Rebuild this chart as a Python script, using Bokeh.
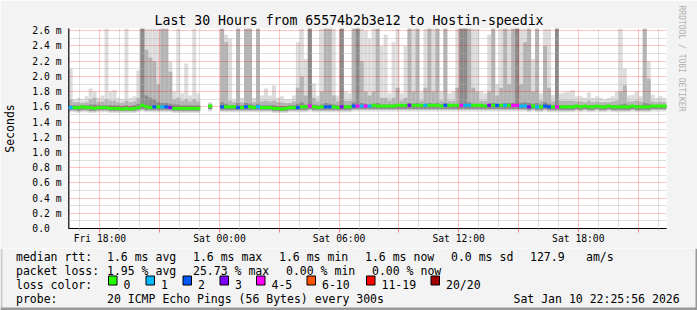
import numpy as np
import pandas as pd
from bokeh.plotting import figure
from bokeh.layouts import column
from bokeh.models import (FixedTicker, CustomJSTickFormatter, Title, Arrow,
                          Range1d, ColumnDataSource)
from bokeh.core.properties import value
from bokeh.embed import file_html
from bokeh.resources import INLINE

nan = float("nan")

# ---------------- data ----------------
START = "2026-01-09 16:25:56"
END = "2026-01-10 22:25:56"
STEP_MINUTES = 12  # one bin = 12 minutes

# highest ping (light smoke top)
HI = [
    2.10, 1.70, 1.72, 1.70, 1.74, 1.84, 1.80, 1.72, 1.75, 2.63,
    1.80, 1.82, 1.72, 1.70, 2.63, 1.72, 1.74, 2.08, 2.63, 2.63,
    2.63, 2.63, 2.63, 2.63, 2.63, 2.20, 1.80, 2.63, 1.78, 2.17,
    1.75, 2.63, 1.78, nan, nan, 1.66, nan, nan, 2.63, 2.55,
    2.50, 1.70, 2.63, 1.72, 2.63, 2.63, 1.72, 2.63, 1.75, 1.84,
    1.75, 1.88, 1.72, 1.74, 1.70, 1.70, 1.75, 2.45, 2.63, 2.23,
    2.63, 1.91, 1.75, 2.63, 2.63, 2.63, 2.63, 1.75, 2.63, 1.80,
    1.78, 2.63, 2.63, 2.63, 2.60, 2.50, 2.63, 2.63, 2.40, 2.55,
    1.78, 2.45, 2.63, 1.78, 2.40, 2.63, 2.63, 2.63, 1.80, 2.63,
    2.63, 2.63, 2.63, 1.80, 2.63, 1.78, 1.80, 2.63, 2.63, 2.63,
    2.63, 2.63, 2.63, 1.80, 1.78, 2.55, 2.63, 1.90, 2.63, 2.63,
    2.63, 2.63, 2.63, 2.63, 2.63, 2.63, 2.23, 2.63, 1.78, 2.63,
    2.63, 1.76, 2.63, 1.78, 1.79, 1.80, 1.82, 1.74, 1.74, 1.72,
    1.79, 1.72, 1.74, 1.72, 1.70, 1.72, 1.74, 1.80, 2.63, 2.10,
    1.75, 1.76, 1.80, 1.74, 2.63, 2.20, 1.76, 1.72, 1.74, 1.72,
]
# upper edge of the medium smoke
MID = [
    1.70, 1.66, 1.66, 1.65, 1.66, 1.70, 1.72, 1.66, 1.67, 1.70,
    1.68, 1.68, 1.66, 1.65, 1.68, 1.66, 1.67, 1.72, 2.63, 2.35,
    2.25, 2.20, 1.90, 2.63, 2.63, 2.06, 1.70, 1.72, 1.68, 1.70,
    1.67, 1.70, 1.67, nan, nan, 1.64, nan, nan, 2.63, 2.45,
    1.68, 1.66, 2.63, 1.66, 2.63, 2.63, 1.66, 2.63, 1.67, 1.68,
    1.67, 1.68, 1.66, 1.66, 1.65, 1.65, 1.67, 1.85, 2.00, 1.75,
    2.63, 1.72, 1.67, 1.80, 2.63, 2.63, 1.75, 1.67, 2.63, 1.68,
    1.68, 2.63, 2.63, 2.20, 1.80, 1.75, 1.80, 2.63, 1.72, 1.72,
    1.68, 1.72, 1.85, 1.68, 1.72, 2.63, 1.80, 2.63, 1.68, 1.85,
    2.63, 1.80, 2.63, 1.68, 2.63, 1.68, 1.68, 1.85, 2.63, 2.63,
    2.63, 1.85, 1.80, 1.68, 1.68, 1.80, 2.63, 1.75, 1.85, 2.63,
    1.90, 2.63, 2.63, 1.90, 2.45, 2.63, 1.80, 2.63, 1.68, 2.40,
    1.85, 1.67, 2.63, 1.68, 1.68, 1.68, 1.68, 1.67, 1.67, 1.66,
    1.68, 1.66, 1.67, 1.66, 1.66, 1.66, 1.67, 1.68, 1.80, 1.88,
    1.67, 1.67, 1.68, 1.67, 2.63, 1.97, 1.67, 1.66, 1.67, 1.66,
]
# upper edge of the dark smoke
DARK = [
    1.62, 1.62, 1.62, 1.62, 1.62, 1.63, 1.63, 1.62, 1.62, 1.62,
    1.62, 1.62, 1.62, 1.61, 1.62, 1.61, 1.62, 1.64, 2.63, 1.75,
    1.72, 1.70, 1.66, 1.65, 1.65, 1.64, 1.63, 1.63, 1.62, 1.62,
    1.62, 1.62, 1.62, nan, nan, 1.62, nan, nan, 1.66, 1.64,
    1.62, 1.62, 1.65, 1.62, 1.65, 1.64, 1.62, 1.64, 1.62, 1.62,
    1.62, 1.62, 1.61, 1.61, 1.61, 1.62, 1.62, 1.64, 1.66, 1.63,
    2.63, 1.63, 1.62, 1.63, 1.65, 1.64, 1.63, 1.62, 2.63, 1.62,
    1.62, 1.66, 2.63, 1.65, 1.64, 1.63, 1.64, 1.65, 1.63, 1.63,
    1.63, 1.63, 1.64, 1.63, 1.63, 1.65, 1.64, 1.65, 1.63, 1.64,
    1.65, 1.64, 1.65, 1.63, 1.65, 1.63, 1.63, 1.64, 2.63, 2.63,
    1.66, 1.64, 1.64, 1.63, 1.63, 1.64, 1.65, 1.64, 1.64, 1.65,
    1.65, 1.65, 2.63, 1.65, 1.66, 1.65, 1.64, 1.65, 1.63, 1.66,
    1.64, 1.62, 2.63, 1.62, 1.62, 1.62, 1.62, 1.62, 1.62, 1.62,
    1.62, 1.62, 1.62, 1.62, 1.62, 1.62, 1.62, 1.62, 1.63, 1.64,
    1.62, 1.62, 1.62, 1.62, 1.65, 1.64, 1.62, 1.62, 1.62, 1.62,
]
# lowest ping
LO = [
    1.53, 1.53, 1.52, 1.53, 1.53, 1.52, 1.52, 1.53, 1.53, 1.53,
    1.52, 1.52, 1.52, 1.52, 1.52, 1.52, 1.52, 1.53, 1.54, 1.53,
    1.53, 1.53, 1.53, 1.53, 1.53, 1.53, 1.52, 1.52, 1.52, 1.52,
    1.52, 1.52, 1.52, nan, nan, 1.54, nan, nan, 1.53, 1.53,
    1.53, 1.53, 1.53, 1.53, 1.53, 1.53, 1.53, 1.53, 1.53, 1.53,
    1.53, 1.52, 1.52, 1.52, 1.52, 1.53, 1.53, 1.53, 1.53, 1.53,
    1.54, 1.53, 1.53, 1.53, 1.53, 1.53, 1.53, 1.53, 1.53, 1.53,
    1.53, 1.54, 1.54, 1.54, 1.54, 1.54, 1.54, 1.54, 1.54, 1.54,
    1.54, 1.54, 1.54, 1.54, 1.54, 1.54, 1.54, 1.54, 1.54, 1.54,
    1.54, 1.54, 1.54, 1.54, 1.54, 1.54, 1.54, 1.54, 1.54, 1.54,
    1.54, 1.54, 1.54, 1.54, 1.54, 1.54, 1.54, 1.54, 1.54, 1.54,
    1.54, 1.54, 1.54, 1.54, 1.54, 1.53, 1.54, 1.53, 1.53, 1.54,
    1.53, 1.53, 1.53, 1.53, 1.53, 1.53, 1.53, 1.54, 1.53, 1.54,
    1.53, 1.53, 1.54, 1.53, 1.53, 1.54, 1.53, 1.53, 1.53, 1.53,
    1.53, 1.54, 1.53, 1.53, 1.53, 1.53, 1.54, 1.54, 1.54, 1.54,
]
# median rtt (ms)
MED = [
    1.59, 1.59, 1.59, 1.60, 1.59, 1.59, 1.58, 1.59, 1.59, 1.59,
    1.58, 1.58, 1.58, 1.57, 1.58, 1.57, 1.58, 1.59, 1.62, 1.60,
    1.59, 1.60, 1.60, 1.60, 1.60, 1.59, 1.58, 1.58, 1.58, 1.58,
    1.58, 1.58, 1.58, nan, nan, 1.61, nan, nan, 1.60, 1.60,
    1.60, 1.60, 1.59, 1.59, 1.60, 1.60, 1.59, 1.60, 1.59, 1.59,
    1.59, 1.58, 1.58, 1.57, 1.58, 1.59, 1.59, 1.59, 1.60, 1.60,
    1.61, 1.60, 1.59, 1.60, 1.60, 1.60, 1.60, 1.59, 1.60, 1.60,
    1.60, 1.61, 1.61, 1.61, 1.61, 1.61, 1.62, 1.61, 1.61, 1.61,
    1.61, 1.61, 1.62, 1.62, 1.62, 1.62, 1.62, 1.62, 1.62, 1.62,
    1.62, 1.62, 1.62, 1.61, 1.62, 1.62, 1.62, 1.62, 1.62, 1.62,
    1.62, 1.62, 1.62, 1.62, 1.61, 1.62, 1.62, 1.62, 1.62, 1.62,
    1.62, 1.62, 1.62, 1.61, 1.61, 1.60, 1.61, 1.60, 1.60, 1.61,
    1.60, 1.60, 1.60, 1.60, 1.60, 1.60, 1.60, 1.61, 1.60, 1.61,
    1.60, 1.60, 1.61, 1.60, 1.60, 1.61, 1.60, 1.60, 1.60, 1.60,
    1.60, 1.61, 1.60, 1.60, 1.60, 1.60, 1.61, 1.61, 1.61, 1.61,
]
# packet loss class per bin (index into LOSS_LABELS)
LOSS = [
    1, 0, 0, 0, 0, 0, 0, 0, 0, 0,
    0, 0, 0, 0, 0, 0, 0, 0, 0, 0,
    0, 2, 0, 1, 2, 3, 0, 0, 0, 0,
    0, 0, 0, 0, 0, 0, 0, 0, 2, 0,
    0, 0, 2, 0, 2, 0, 0, 1, 0, 0,
    0, 0, 0, 0, 0, 0, 0, 2, 0, 0,
    4, 0, 0, 0, 2, 2, 0, 0, 3, 0,
    0, 2, 4, 1, 4, 1, 0, 0, 0, 0,
    0, 0, 0, 0, 0, 3, 0, 0, 0, 1,
    0, 0, 0, 0, 2, 0, 0, 0, 4, 1,
    1, 0, 0, 0, 0, 3, 0, 2, 0, 1,
    0, 4, 4, 1, 1, 3, 0, 1, 0, 2,
    2, 0, 4, 0, 0, 0, 0, 0, 0, 0,
    0, 0, 0, 0, 0, 0, 0, 0, 0, 0,
    0, 0, 0, 0, 0, 0, 0, 0, 0, 0,
]
LOSS_LABELS = ["0", "1", "2", "3", "4-5", "6-10", "11-19", "20/20"]
LOSS_COLORS = ["#26ff00", "#00b8ff", "#0059ff", "#7e00ff", "#ff00ff", "#ff5500", "#ff0000", "#a00000"]

Y_TICKS = [0.0, 0.2, 0.4, 0.6, 0.8, 1.0, 1.2, 1.4, 1.6, 1.8, 2.0, 2.2, 2.4, 2.6]
Y_TICK_LABELS = ["0.0\u00a0\u00a0", "0.2 m", "0.4 m", "0.6 m", "0.8 m", "1.0 m", "1.2 m",
                 "1.4 m", "1.6 m", "1.8 m", "2.0 m", "2.2 m", "2.4 m", "2.6 m"]
Y_MINOR = [0.1, 0.3, 0.5, 0.7, 0.9, 1.1, 1.3, 1.5, 1.7, 1.9, 2.1, 2.3, 2.5]

X_LABEL_TIMES = ["2026-01-09 18:00", "2026-01-10 00:00", "2026-01-10 06:00",
                 "2026-01-10 12:00", "2026-01-10 18:00"]
X_TICK_LABELS = ["Fri 18:00", "Sat 00:00", "Sat 06:00", "Sat 12:00", "Sat 18:00"]

TITLE = "Last 30 Hours from 65574b2b3e12 to Hostin-speedix"
ROW1 = ["median rtt:", "1.6 ms avg", "1.6 ms max", "1.6 ms min", "1.6 ms now", "0.0 ms sd", "127.9", "am/s"]
ROW2 = ["packet loss:", "1.95 % avg", "25.73 % max", "0.00 % min", "0.00 % now"]
ROW3 = ["loss color:"]
ROW4 = ["probe:", "20 ICMP Echo Pings (56 Bytes) every 300s", "Sat Jan 10 22:25:56 2026"]
WATERMARK = "RRDTOOL / TOBI OETIKER"

# ---------------- build ----------------
W = 697
H_MAIN = 248           # chart part (title, plot area, time axis)
H_LEG = 310 - H_MAIN   # legend part
FL, FR, FT, FB = 66, 666, 28, 228   # frame edges in canvas pixels (600 px = 30 h)
MONO = "DejaVu Sans Mono"
BG = "#f3f3f3"
ARROW_RED = "#800000"

t_start = pd.Timestamp(START)
t_end = pd.Timestamp(END)
# visible window: 30 h, nudged by a few seconds so that hour grid lines sit on pixel centres
view_start = pd.Timestamp(X_LABEL_TIMES[0]) - pd.Timedelta(hours=1, minutes=34, seconds=30)
view_end = view_start + (t_end - t_start)

n = len(HI)
lefts = np.array([t_start + pd.Timedelta(minutes=STEP_MINUTES * i) for i in range(n)], dtype="datetime64[ms]")
rights = np.array([t_start + pd.Timedelta(minutes=STEP_MINUTES * (i + 1)) for i in range(n)], dtype="datetime64[ms]")

lo = np.array(LO)
med = np.array(MED)
src = ColumnDataSource(dict(
    left=lefts, right=rights, lo=lo, hi=np.array(HI), mid=np.array(MID), dark=np.array(DARK),
    mid_lo=lo + 0.02, dark_lo=lo + 0.03, med_lo=med - 0.02, med_hi=med + 0.02,
    color=[LOSS_COLORS[k] for k in LOSS],
))

p = figure(width=W, height=H_MAIN, x_axis_type="datetime",
           x_range=Range1d(view_start, view_end), y_range=Range1d(0, 2.63),
           output_backend="svg", toolbar_location=None,
           min_border_left=FL, min_border_right=W - FR, min_border_top=FT,
           min_border_bottom=H_MAIN - FB,
           background_fill_color="white", border_fill_color=BG, outline_line_color=None)
p.frame_align = False

p.quad(left="left", right="right", bottom="lo", top="hi", source=src,
       fill_color="#dcdcdc", line_color=None)
p.quad(left="left", right="right", bottom="mid_lo", top="mid", source=src,
       fill_color="#b4b4b4", line_color=None)
p.quad(left="left", right="right", bottom="dark_lo", top="dark", source=src,
       fill_color="#8c8c8c", line_color=None)
rm = p.quad(left="left", right="right", bottom="med_lo", top="med_hi", source=src,
            fill_color="color", line_color=None)
rm.level = "overlay"


def ms(s):
    return int(pd.Timestamp(s).value // 10**6)


major_x = [ms(t) for t in pd.date_range("2026-01-09 18:00", "2026-01-10 21:00", freq="3h")]
minor_x = [ms(t) for t in pd.date_range("2026-01-09 17:00", "2026-01-10 22:00", freq="1h")]
minor_x = [t for t in minor_x if t not in major_x]
label_ms = [ms(t) for t in X_LABEL_TIMES]

xa = p.xaxis[0]
xa.ticker = FixedTicker(ticks=major_x, minor_ticks=minor_x)
xa.formatter = CustomJSTickFormatter(args=dict(times=label_ms, labels=X_TICK_LABELS), code="""
    const i = times.indexOf(tick);
    return i >= 0 ? labels[i] : "";
""")
xa.axis_line_color = "black"
xa.major_tick_in = 0
xa.major_tick_out = 4
xa.minor_tick_in = 0
xa.minor_tick_out = 2
xa.major_tick_line_color = "#f08080"
xa.minor_tick_line_color = "#c0c0c0"
xa.major_label_text_font = MONO
xa.major_label_text_font_size = "9.7px"
xa.major_label_text_color = "black"
xa.major_label_standoff = 0

ya = p.yaxis[0]
ya.ticker = FixedTicker(ticks=Y_TICKS, minor_ticks=Y_MINOR)
ya.formatter = CustomJSTickFormatter(args=dict(vals=Y_TICKS, labels=Y_TICK_LABELS), code="""
    const i = vals.indexOf(tick);
    return i >= 0 ? labels[i] : "";
""")
ya.axis_line_color = "#333333"
ya.major_tick_in = 0
ya.major_tick_out = 0
ya.minor_tick_in = 0
ya.minor_tick_out = 0
ya.major_label_text_font = MONO
ya.major_label_text_font_size = "9.7px"
ya.major_label_text_color = "black"
ya.major_label_standoff = 7
ya.axis_label = "Seconds"
ya.axis_label_text_font = MONO
ya.axis_label_text_font_size = "11.5px"
ya.axis_label_text_font_style = "normal"
ya.axis_label_text_color = "black"
ya.axis_label_standoff = 12

for g in (p.xgrid[0], p.ygrid[0]):
    g.grid_line_color = "#ff0000"
    g.grid_line_alpha = 0.45
    g.grid_line_dash = "1 1"
    g.minor_grid_line_color = "#b0b0b0"
    g.minor_grid_line_alpha = 0.8
    g.minor_grid_line_dash = "1 1"
    g.level = "annotation"

# title above the plot area
p.title.text = TITLE
p.title.align = "left"
p.title.offset = 86
p.title.standoff = 1
p.title.text_font = MONO
p.title.text_font_size = "13.2px"
p.title.text_font_style = "normal"
p.title.text_color = "black"

# vertical watermark at the right edge
p.add_layout(Title(text=WATERMARK, align="left", offset=-23, standoff=20, text_font=MONO,
                   text_font_size="8px", text_font_style="normal", text_color="#b0b0b0"), "right")


def edge(X0, Y0, X1, Y1, color, width=2):
    p.add_layout(Arrow(start=None, end=None, x_start=X0 - FL, y_start=FB - Y0,
                       x_end=X1 - FL, y_end=FB - Y1, start_units="screen", end_units="screen",
                       line_color=color, line_width=width))


# axis extensions
edge(62, 228.5, 668, 228.5, "black", 1)
edge(66.5, 25, 66.5, 228, "#333333", 1)
# small filled arrow heads, built from short strokes
for k, half in enumerate([0.5, 1.0, 1.5, 2.0, 2.5, 3.0]):
    edge(66.5 - half, 20.5 + k, 66.5 + half, 20.5 + k, ARROW_RED, 1)
    edge(673.5 - k, 228.5 - half, 673.5 - k, 228.5 + half, ARROW_RED, 1)

edge(0, 1, W, 1, "#cbcbcb")
edge(1, 0, 1, H_MAIN, "#cbcbcb")
edge(W - 1, 0, W - 1, H_MAIN, "#999999")

# ---------------- legend part (canvas-pixel coordinates) ----------------
leg = figure(width=W, height=H_LEG, x_range=Range1d(0, W), y_range=Range1d(310, H_MAIN),
             title=None, output_backend="svg", toolbar_location=None, min_border=0,
             x_axis_location=None, y_axis_location=None,
             background_fill_color=BG, border_fill_color=BG, outline_line_color=None)
leg.frame_align = False
leg.grid.visible = False

ROW_Y = [256.3, 270.3, 284.3, 298.3]   # text baselines
row1_x = [15.5, 106.5, 192.5, 278.5, 364.5, 450.5, 529.5, 585.5]
row2_x = [15.5, 106.5, 192.5, 285.5, 371.5]
row4_x = [15.5, 106.5, 513]
sw_x = [108, 145.5, 182.5, 219.5, 256, 306.5, 366, 430.5]

tx, ty, tt = [], [], []
for t, xx in zip(ROW1, row1_x):
    tx.append(xx); ty.append(ROW_Y[0]); tt.append(t)
for t, xx in zip(ROW2, row2_x):
    tx.append(xx); ty.append(ROW_Y[1]); tt.append(t)
tx.append(15.5); ty.append(ROW_Y[2]); tt.append(ROW3[0])
for lbl, xx in zip(LOSS_LABELS, sw_x):
    tx.append(xx + 15); ty.append(ROW_Y[2]); tt.append(lbl)
for t, xx in zip(ROW4, row4_x):
    tx.append(xx); ty.append(ROW_Y[3]); tt.append(t)

leg.text(x=tx, y=ty, text=tt, text_font=value(MONO), text_font_size=value("11.5px"),
         text_align="left", text_baseline="alphabetic", text_color="black")
leg.quad(left=sw_x, right=[v + 8.5 for v in sw_x], top=[ROW_Y[2] - 8.8] * len(sw_x),
         bottom=[ROW_Y[2] + 0.2] * len(sw_x), fill_color=LOSS_COLORS, line_color="black", line_width=1)

# frame shading of the image
leg.quad(left=[0], right=[2], top=[H_MAIN], bottom=[310], fill_color="#cbcbcb", line_color=None)
leg.quad(left=[W - 2], right=[W], top=[H_MAIN], bottom=[310], fill_color="#999999", line_color=None)
leg.quad(left=[0], right=[W], top=[307], bottom=[310], fill_color="#999999", line_color=None)

layout = column(p, leg, spacing=0)
open("out.html", "w").write(file_html(layout, INLINE))
